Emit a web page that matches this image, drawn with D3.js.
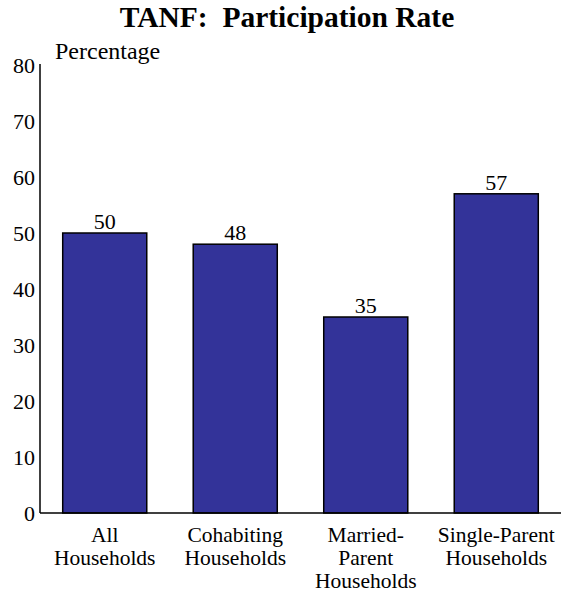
<!DOCTYPE html>
<html>
<head>
<meta charset="utf-8">
<script src="https://cdn.jsdelivr.net/npm/d3@7"></script>
<style>
  html, body { margin: 0; padding: 0; background: #fff; }
  svg { display: block; }
  svg text { font-family: "Liberation Serif", "Times New Roman", Times, "DejaVu Serif", serif !important; }
</style>
</head>
<body>
<svg id="chart" width="569" height="594"></svg>
<script>
const categories = [
  ["All", "Households"],
  ["Cohabiting", "Households"],
  ["Married-", "Parent", "Households"],
  ["Single-Parent", "Households"]
];
const values = [50, 48, 35, 57];
const yTicks = [0, 10, 20, 30, 40, 50, 60, 70, 80];
const title = "TANF:  Participation Rate";
const yLabel = "Percentage";

const FONT = "Liberation Serif, Times New Roman, serif";
const svg = d3.select("#chart");
const x = d3.scaleBand()
  .domain(d3.range(categories.length))
  .range([40, 561])
  .paddingInner(0.356)
  .paddingOuter(0.174);
const y = d3.scaleLinear().domain([0, 80]).range([513, 65]);

// title
svg.append("text")
  .attr("x", 287).attr("y", 27)
  .attr("text-anchor", "middle")
  .attr("font-family", FONT)
  .style("font-weight", "bold")
  .style("font-size", "29.5px")
  .style("white-space", "pre")
  .text(title);

// y label
svg.append("text")
  .attr("x", 55).attr("y", 59)
  .attr("font-family", FONT)
  .style("font-size", "24px")
  .text(yLabel);

// bars
svg.selectAll("rect.bar").data(values).enter().append("rect")
  .attr("class", "bar")
  .attr("x", (d, i) => x(i))
  .attr("width", x.bandwidth())
  .attr("y", d => y(d))
  .attr("height", d => y(0) - y(d))
  .attr("fill", "#333399")
  .attr("stroke", "#000")
  .attr("stroke-width", 1.5);

// value labels
svg.selectAll("text.val").data(values).enter().append("text")
  .attr("class", "val")
  .attr("x", (d, i) => x(i) + x.bandwidth() / 2)
  .attr("y", d => y(d) - 4)
  .attr("text-anchor", "middle")
  .attr("font-family", FONT)
  .style("font-size", "22px")
  .text(d => d);

// y axis
const yAxis = d3.axisLeft(y).tickValues(yTicks).tickSize(0).tickPadding(5);
const gy = svg.append("g").attr("transform", "translate(40,0)").call(yAxis)
  .attr("font-family", FONT).attr("font-size", 22);
gy.select(".domain").remove();
gy.selectAll("text").attr("fill", "#000");
svg.append("line")
  .attr("x1", 40).attr("x2", 40)
  .attr("y1", y(80) - 1).attr("y2", y(0))
  .attr("stroke", "#000").attr("stroke-width", 1.5);

// x baseline
svg.append("line")
  .attr("x1", 40).attr("x2", 561)
  .attr("y1", y(0)).attr("y2", y(0))
  .attr("stroke", "#000").attr("stroke-width", 1.5);

// category labels
categories.forEach((lines, i) => {
  const t = svg.append("text")
    .attr("text-anchor", "middle")
    .attr("font-family", FONT)
    .style("font-size", "21.5px");
  lines.forEach((ln, j) => {
    t.append("tspan")
      .attr("x", x(i) + x.bandwidth() / 2)
      .attr("y", 542 + j * 23)
      .text(ln);
  });
});
</script>
</body>
</html>
